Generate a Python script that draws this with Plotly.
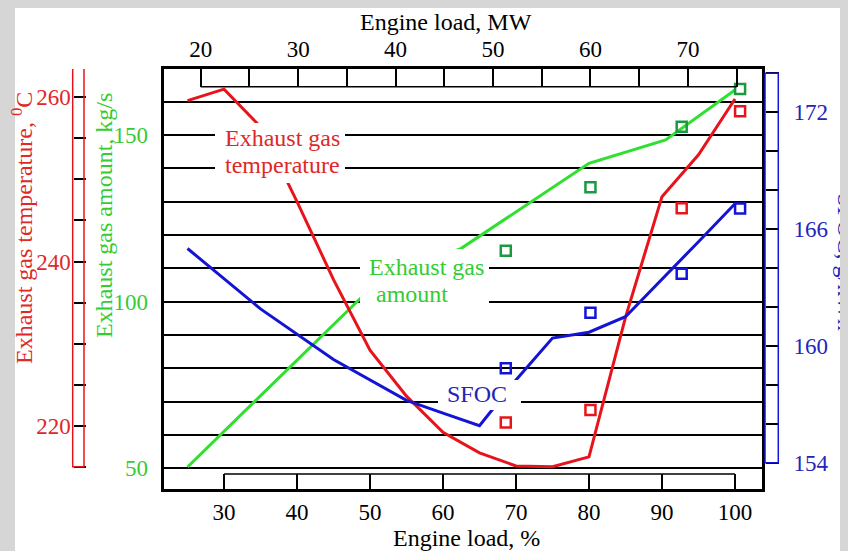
import plotly.graph_objects as go

# ---------------- data ----------------
temp_load = [25, 30, 35, 40, 45, 50, 55, 60, 65, 70, 75, 80, 85, 90, 95, 100]
temp_vals = [259.6, 261.0, 256.4, 247.3, 237.8, 229.2, 223.6, 219.2, 216.7, 215.1, 215.0, 216.2, 233.2, 247.9, 253.0, 259.8]

gas_load = [25, 51, 62.5, 80, 90.5, 100]
gas_vals = [50.4, 105.9, 116.0, 141.5, 148.5, 163.5]

sfoc_load = [25, 35, 45, 55, 60, 65, 70, 75, 80, 85, 95, 100]
sfoc_vals = [165.0, 161.9, 159.3, 157.2, 156.55, 155.9, 158.25, 160.4, 160.7, 161.5, 165.35, 167.3]

meas_load = [68.6, 80.2, 92.7, 100.7]
meas_gas = [115.3, 134.3, 152.5, 163.8]
meas_temp = [220.4, 221.9, 246.5, 258.3]
meas_sfoc = [158.85, 161.7, 163.7, 167.05]

pct_ticks = [30, 40, 50, 60, 70, 80, 90, 100]
mw_ticks = [20, 30, 40, 50, 60, 70]
mw_minor = [25, 35, 45, 55, 65, 75]
gas_ticks = [50, 100, 150]
gas_minor = [60, 70, 80, 90, 110, 120, 130, 140, 160]
temp_ticks = [220, 240, 260]
temp_minor = [215, 225, 230, 235, 245, 250, 255, 265]
sfoc_ticks = [154, 160, 166, 172]
sfoc_minor = [156, 158, 162, 164, 168, 170, 174]

# ---------------- styling ----------------
OFF = 8                     # page body margin offset
W, H = 840, 543
FONT = "Liberation Serif"
RED, RED_T = "#e8141c", "#e02828"
GREEN, GREEN_T, GREEN_M = "#2fe02f", "#33cc33", "#1a9a40"
BLUE, BLUE_T = "#1414d4", "#2424b8"


def fx(px):
    return (px - OFF) / W


def fy(py):
    return 1 - (py - OFF) / H


fig = go.Figure()

fig.add_trace(go.Scatter(x=gas_load, y=gas_vals, mode="lines",
                         line=dict(color=GREEN, width=3), xaxis="x", yaxis="y",
                         showlegend=False, name="Exhaust gas amount"))
fig.add_trace(go.Scatter(x=temp_load, y=temp_vals, mode="lines",
                         line=dict(color=RED, width=3), xaxis="x", yaxis="y2",
                         showlegend=False, name="Exhaust gas temperature"))
fig.add_trace(go.Scatter(x=sfoc_load, y=sfoc_vals, mode="lines",
                         line=dict(color=BLUE, width=3), xaxis="x", yaxis="y3",
                         showlegend=False, name="SFOC"))

mk = dict(symbol="square-open", size=10)
fig.add_trace(go.Scatter(x=meas_load, y=meas_gas, mode="markers", xaxis="x", yaxis="y",
                         marker=dict(**mk, color=GREEN_M, line=dict(color=GREEN_M, width=2.5)),
                         showlegend=False, cliponaxis=False))
fig.add_trace(go.Scatter(x=meas_load, y=meas_temp, mode="markers", xaxis="x", yaxis="y2",
                         marker=dict(**mk, color=RED, line=dict(color=RED, width=2.5)),
                         showlegend=False, cliponaxis=False))
fig.add_trace(go.Scatter(x=meas_load, y=meas_sfoc, mode="markers", xaxis="x", yaxis="y3",
                         marker=dict(**mk, color=BLUE, line=dict(color=BLUE, width=2.5)),
                         showlegend=False, cliponaxis=False))

X0, X1, Y0, Y1 = 163.5, 761.7, 69, 489
tickfont = dict(family=FONT, size=23, color="black")

fig.update_layout(
    width=W, height=H, autosize=False,
    margin=dict(l=0, r=0, t=0, b=0, pad=0),
    paper_bgcolor="white", plot_bgcolor="white",
    font=dict(family=FONT, size=23),
    xaxis=dict(domain=[fx(X0), fx(X1)], range=[21.71, 103.66],
               tickvals=pct_ticks, ticks="inside", ticklen=15, tickwidth=1.5, tickcolor="black",
               showline=True, linewidth=3, linecolor="black", mirror=True,
               showgrid=False, zeroline=False, tickfont=tickfont, ticklabelstandoff=0),
    xaxis2=dict(overlaying="x", side="top", anchor="y", range=[16.18, 77.57],
                tickvals=mw_ticks, ticks="inside", ticklen=18,
                tickwidth=1.5, tickcolor="black",
                minor=dict(tickvals=mw_minor, ticks="inside", ticklen=18, tickwidth=1.5,
                           tickcolor="black"),
                showline=False, showgrid=False,
                zeroline=False, tickfont=tickfont, ticklabelstandoff=6),
    yaxis=dict(domain=[fy(Y1), fy(Y0)], range=[43.79, 169.79],
               tickvals=gas_ticks, ticks="",
               showgrid=True, gridcolor="black", gridwidth=1.5,
               minor=dict(tickvals=gas_minor, ticks="", showgrid=True, gridcolor="black",
                          gridwidth=1.5),
               showline=True, linewidth=3, linecolor="black", mirror=True, zeroline=False,
               tickfont=dict(family=FONT, size=23, color=GREEN_T), ticklabelstandoff=8),
    yaxis2=dict(overlaying="y", side="left", anchor="free", position=fx(72.7),
                range=[212.29, 263.45], tickvals=temp_ticks,
                ticks="inside", ticklen=12, tickwidth=1.5, tickcolor="black",
                minor=dict(tickvals=temp_minor, ticks="inside", ticklen=12, tickwidth=1.5,
                           tickcolor="black"),
                showline=False, showgrid=False, zeroline=False,
                tickfont=dict(family=FONT, size=23, color=RED_T), ticklabelstandoff=2),
    yaxis3=dict(overlaying="y", side="right", anchor="free", position=fx(765),
                range=[152.65, 174.22], tickvals=sfoc_ticks,
                ticks="outside", ticklen=13, tickwidth=1.5, tickcolor="black",
                minor=dict(tickvals=sfoc_minor, ticks="outside", ticklen=13, tickwidth=1.5,
                           tickcolor="black"),
                showline=False, showgrid=False, zeroline=False,
                tickfont=dict(family=FONT, size=23, color=BLUE_T), ticklabelstandoff=10),
)

shapes = [
    # photo-like grey edge of the original
    dict(type="rect", xref="paper", yref="paper", x0=0, x1=fx(15), y0=0, y1=1,
         fillcolor="#d6d6d6", line=dict(width=0), layer="below"),
    # axis bars
    dict(type="rect", xref="paper", yref="y2", x0=fx(72.7), x1=fx(84), y0=215, y1=265,
         line=dict(color=RED, width=1.5)),
    dict(type="rect", xref="paper", yref="y3", x0=fx(765), x1=fx(778.3), y0=154, y1=174,
         line=dict(color=BLUE, width=1.5)),
    dict(type="line", xref="x2", yref="paper", x0=20, x1=75, y0=fy(86.7), y1=fy(86.7),
         line=dict(color="black", width=1.5)),
    dict(type="line", xref="x", yref="paper", x0=30, x1=100, y0=fy(474), y1=fy(474),
         line=dict(color="black", width=1.5)),
    # white label backgrounds
    dict(type="rect", xref="paper", yref="paper", x0=fx(215), x1=fx(345), y0=fy(183), y1=fy(123),
         fillcolor="white", line=dict(width=0), layer="above"),
    dict(type="rect", xref="paper", yref="paper", x0=fx(360), x1=fx(489), y0=fy(310), y1=fy(249),
         fillcolor="white", line=dict(width=0), layer="above"),
    dict(type="rect", xref="paper", yref="paper", x0=fx(438), x1=fx(521), y0=fy(410), y1=fy(380),
         fillcolor="white", line=dict(width=0), layer="above"),
]
fig.update_layout(shapes=shapes)


def ann(text, px, py, color, size=24, angle=0, xanchor="center"):
    fig.add_annotation(text=text, x=fx(px), y=fy(py), xref="paper", yref="paper",
                       showarrow=False, textangle=angle, xanchor=xanchor, yanchor="middle",
                       font=dict(family=FONT, size=size, color=color))


ann("Engine load, MW", 446, 22, "black")
ann("Engine load, %", 467, 538, "black")
ann("Exhaust gas temperature, <sup>0</sup>C", 22, 228, RED_T, angle=-90)
ann("Exhaust gas amount, kg/s", 104, 216, GREEN_T, angle=-90)
ann("SFOC, g/kWh", 845.5, 262, BLUE_T, angle=90)

ann("Exhaust gas", 282.5, 138, RED_T)
ann("temperature", 282.5, 165, RED_T)
ann("Exhaust gas", 367, 267, GREEN_T, xanchor="left")
ann("amount", 374, 294, GREEN_T, xanchor="left")
ann("SFOC", 476.7, 394, BLUE_T)

fig.write_html("out.html", post_script="document.body.style.background='#d6d6d6';")
